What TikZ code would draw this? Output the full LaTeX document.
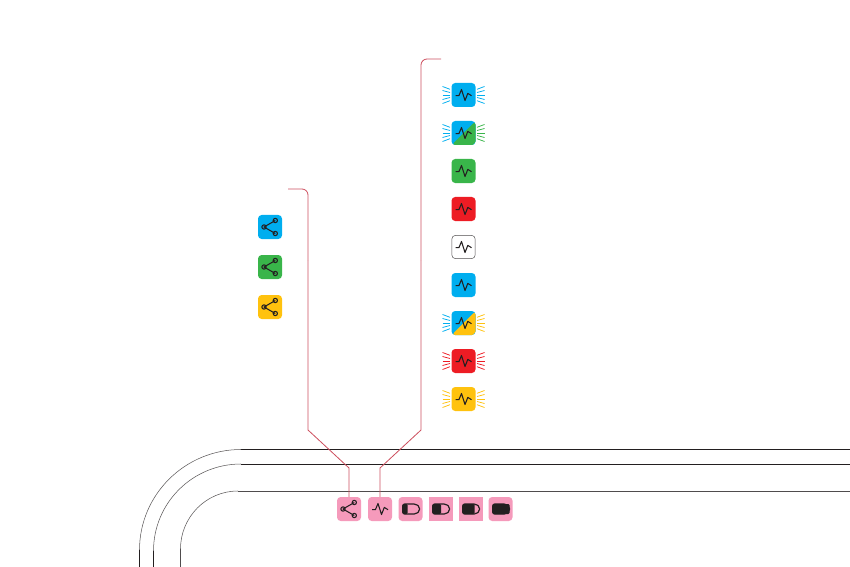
\documentclass[tikz,border=0pt]{standalone}
\usepackage{tikz}
\usepackage{xcolor}
\usetikzlibrary{positioning, calc}
\definecolor{cBlue}{RGB}{0,174,239}
\definecolor{cGreen}{RGB}{57,181,74}
\definecolor{cRed}{RGB}{237,28,36}
\definecolor{cYellow}{RGB}{255,194,14}
\definecolor{cPink}{RGB}{245,154,187}
\definecolor{cLead}{RGB}{205,80,95}
\definecolor{cInk}{RGB}{35,31,32}
\tikzset{
	lamp/.style    ={rectangle, rounded corners=0.11cm, minimum size=0.72cm, inner sep=0pt, fill=#1},
	splitlamp/.style 2 args={rectangle, rounded corners=0.11cm, minimum size=0.72cm, inner sep=0pt, fill=#1,
		path picture={\fill[#2] (path picture bounding box.south west) -- (path picture bounding box.south east) -- (path picture bounding box.north east) -- cycle;}},
	offlamp/.style ={rectangle, rounded corners=0.11cm, minimum size=0.70cm, inner sep=0pt, fill=white, draw=cInk!80, line width=0.4pt},
	slot/.style    ={rectangle, rounded corners=0.11cm, minimum size=0.72cm, inner sep=0pt, fill=cPink},
	sharpslot/.style={rectangle, minimum size=0.72cm, inner sep=0pt, fill=cPink},
	lead/.style    ={draw=cLead, line width=0.7pt},
	track/.style   ={draw=cInk, line width=0.7pt},
	trackarc/.style={draw=cInk!75, line width=0.45pt},
	ray/.style     ={line width=0.65pt},
	glyph/.style   ={draw=cInk, line width=0.9pt, line join=round},
	pulseicon/.pic={
		\draw[glyph] (-8,0.7) -- (-4.6,0.7) -- (-2,-5.5) -- (1.5,5.5) -- (4.3,-1.6) -- (8,0.7);
	},
	shareicon/.pic={
		\draw[glyph] (5.3,-6.5) -- (-6,0) -- (5.3,6.5);
		\foreach \px/\py in {-6/0, 5.3/-6.5, 5.3/6.5} {
			\draw[glyph] (\px,\py) circle (0.065cm);
		}
	},
}
% battery icon: #1 = node, #2 = charged width
\newcommand{\batteryicon}[2]{
	\begin{scope}[shift={(#1)}, xshift=0.02cm]
		\fill[cInk, rounded corners=0.04cm] (-8.5,-5) rectangle (-8.5+#2,5);
		\draw[glyph, line width=1pt, rounded corners=0.06cm] (-8.5,-5) -- (5,-5) -- (8.5,-2) -- (8.5,2) -- (5,5) -- (-8.5,5) -- cycle;
	\end{scope}
}
% fan of rays either side of a lamp
\newcommand{\lamprays}[3]{
	\begin{scope}[shift={(#1)}]
		\foreach \ya/\yb in {-8.5/-5.7, -4.5/-2.5, 0/0, 4.5/2.5, 8.5/5.7} {
			\draw[ray, #2] (-21,\ya) -- (-13.5,\yb);
			\draw[ray, #3] (21,\ya) -- (13.5,\yb);
		}
	\end{scope}
}
\begin{document}
\begin{tikzpicture}[x=0.03cm, y=-0.03cm]
	\useasboundingbox (0,0) rectangle (850,567);
	% track outline
	\draw[track] (241,449.5) -- (850,449.5);
	\draw[track] (241,464) -- (850,464);
	\draw[track, draw=cInk!80] (238,491) -- (850,491);
	\draw[trackarc] (139.5,550) .. controls (139.5,494.5) and (185,449.5) .. (241,449.5);
	\draw[trackarc] (153.5,551) .. controls (153.5,502.7) and (192.7,464) .. (241,464);
	\draw[trackarc] (180.5,549) .. controls (180.5,517) and (206.2,491) .. (238,491);
	\draw[track] (139.5,550) -- (139.5,567);
	\draw[track] (153.5,551) -- (153.5,567);
	\draw[track, draw=cInk!80] (180.5,549) -- (180.5,567);
	% status slots
	\node[slot]      (share)  at (349,509) {};
	\node[slot]      (pulse)  at (380,509) {};
	\node[slot]      (batt1)  at (410.5,509) {};
	\node[sharpslot] (batt2)  at (440.5,509) {};
	\node[sharpslot] (batt3)  at (470.5,509) {};
	\node[slot]      (batt4)  at (500.5,509) {};
	\pic at (share) {shareicon};
	\pic at (pulse) {pulseicon};
	\batteryicon{batt1}{5}
	\batteryicon{batt2}{8.5}
	\batteryicon{batt3}{12}
	\batteryicon{batt4}{17}
	% share states
	\node[lamp=cBlue]   (shareB) at (270,227) {};
	\node[lamp=cGreen]  (shareG) at (270,267) {};
	\node[lamp=cYellow] (shareY) at (270,307) {};
	\foreach \n in {shareB, shareG, shareY} {
		\pic at (\n) {shareicon};
	}
	% pulse states
	\node[lamp=cBlue]                 (stA) at (463.5,95) {};
	\node[splitlamp={cBlue}{cGreen}]  (stB) at (463.5,133) {};
	\node[lamp=cGreen]                (stC) at (463.5,171) {};
	\node[lamp=cRed]                  (stD) at (463.5,209) {};
	\node[offlamp]                    (stE) at (463.5,247) {};
	\node[lamp=cBlue]                 (stF) at (463.5,285) {};
	\node[splitlamp={cBlue}{cYellow}] (stG) at (463.5,323) {};
	\node[lamp=cRed]                  (stH) at (463.5,361) {};
	\node[lamp=cYellow]               (stI) at (463.5,399) {};
	\foreach \n in {stA, stB, stC, stD, stE, stF, stG, stH, stI} {
		\pic at (\n) {pulseicon};
	}
	\lamprays{stA}{cBlue}{cBlue}
	\lamprays{stB}{cBlue}{cGreen}
	\lamprays{stG}{cBlue}{cYellow}
	\lamprays{stH}{cRed}{cRed}
	\lamprays{stI}{cYellow}{cYellow}
	% leader lines
	\coordinate (shareEnd) at (288,189);
	\coordinate (pulseEnd) at (441,59);
	\draw[lead, rounded corners=0.18cm] (shareEnd) -- (308,189) -- (308,260);
	\draw[lead] (308,260) -- (308,430) -- (349,468) -- (share.north);
	\draw[lead, rounded corners=0.18cm] (pulseEnd) -- (421,59) -- (421,260);
	\draw[lead] (421,260) -- (421,430) -- (380,468) -- (pulse.north);
\end{tikzpicture}
\end{document}
